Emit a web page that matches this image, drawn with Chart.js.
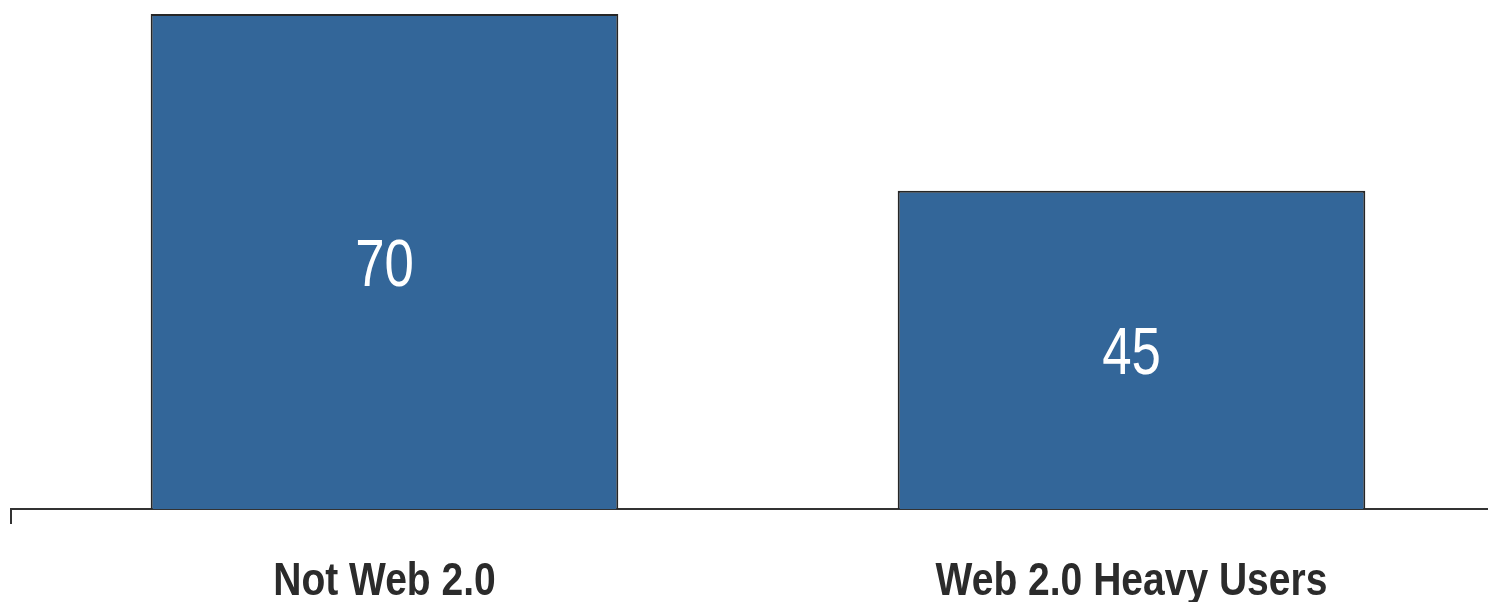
<!DOCTYPE html>
<html>
<head>
<meta charset="utf-8">
<script src="https://cdn.jsdelivr.net/npm/chart.js@4"></script>
<style>
    html, body { margin: 0; padding: 0; background: #fff; overflow: hidden; }
    #wrap { position: relative; width: 1505px; height: 602px; }
</style>
</head>
<body>
<div id="wrap"><canvas id="usageChart"></canvas></div>
<script>
const categories = ['Not Web 2.0', 'Web 2.0 Heavy Users'];
const values = [70, 45];
const yMin = 0;
const yMax = 70;

const FONT = '"Liberation Sans Narrow", "Arial Narrow", "Liberation Sans", sans-serif';

// draws text squeezed horizontally to get a condensed look
function drawNarrow(ctx, text, x, y, squeeze) {
    ctx.save();
    ctx.translate(x, y);
    ctx.scale(squeeze, 1);
    ctx.fillText(text, 0, 0);
    ctx.restore();
}

// value in the middle of each bar, category name under the axis
const barText = {
    id: 'barText',
    afterDatasetsDraw(chart) {
        const ctx = chart.ctx;
        const meta = chart.getDatasetMeta(0);
        const xScale = chart.scales.x;
        ctx.save();
        ctx.textAlign = 'center';
        ctx.textBaseline = 'alphabetic';

        ctx.fillStyle = '#ffffff';
        ctx.font = '66px ' + FONT;
        meta.data.forEach((bar, i) => {
            const midY = (bar.y + bar.base) / 2;
            drawNarrow(ctx, String(values[i]), bar.x, midY + 24, 0.8);
        });

        ctx.fillStyle = '#2b2b2b';
        ctx.font = 'bold 47px ' + FONT;
        categories.forEach((name, i) => {
            drawNarrow(ctx, name, xScale.getPixelForValue(i), 595, 0.83);
        });
        ctx.restore();
    }
};

const ctx = document.getElementById('usageChart').getContext('2d');
new Chart(ctx, {
    type: 'bar',
    data: {
        labels: categories,
        datasets: [{
            data: values,
            backgroundColor: '#336699',
            borderColor: '#262626',
            borderWidth: 2,
            borderSkipped: 'bottom',
            categoryPercentage: 1,
            barPercentage: 0.626
        }]
    },
    options: {
        responsive: true,
        maintainAspectRatio: false,
        animation: false,
        layout: { padding: { top: 14, left: 11, right: 0, bottom: 78 } },
        plugins: {
            legend: { display: false },
            tooltip: { enabled: false }
        },
        scales: {
            x: {
                offset: true,
                border: { display: true, color: '#333333', width: 2 },
                grid: {
                    drawOnChartArea: false,
                    drawTicks: true,
                    tickLength: 15,
                    lineWidth: 2,
                    color: c => c.index === 0 ? '#333333' : 'rgba(0,0,0,0)'
                },
                ticks: { display: false }
            },
            y: {
                display: false,
                min: yMin,
                max: yMax
            }
        }
    },
    plugins: [barText]
});
</script>
</body>
</html>
